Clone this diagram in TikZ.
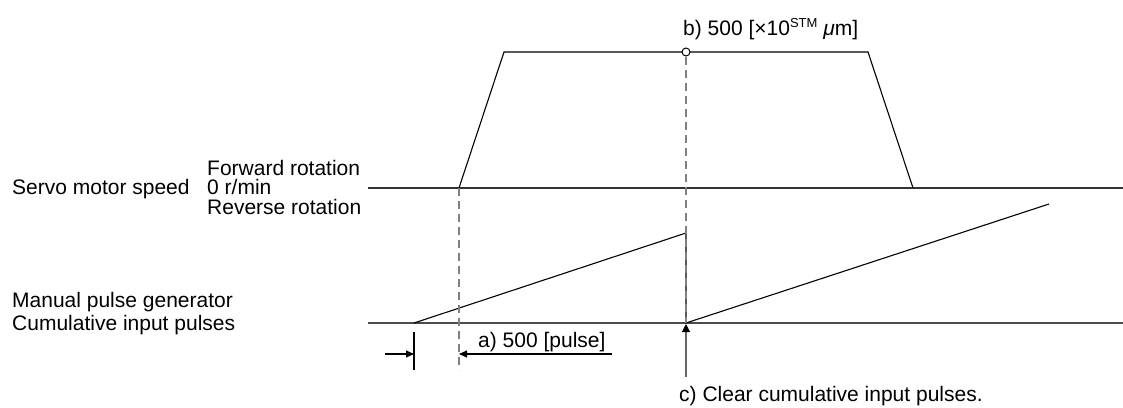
\documentclass[tikz,border=0pt]{standalone}
\usepackage{fontspec}
\setmainfont{Liberation Sans}
\usetikzlibrary{arrows.meta}
\begin{document}
\begin{tikzpicture}[x=1pt,y=-1pt,
  axis/.style={line width=1.3pt,black!80},
  curve/.style={line width=1.1pt},
  guide/.style={line width=1.2pt,black!50,dash pattern=on 8pt off 5pt},
  lbl/.style={anchor=base west,inner sep=0pt,font=\fontsize{21}{20}\selectfont},
  tip/.style={-{Triangle[length=8pt,width=7pt]}}]
  \useasboundingbox (0,0) rectangle (1123,407);
  % servo motor speed
  \coordinate (s0) at (368,188);
  \coordinate (s1) at (1123,188);
  \coordinate (acc0) at (459,188);
  \coordinate (acc1) at (504,52);
  \coordinate (dec0) at (868,52);
  \coordinate (dec1) at (913,188);
  \draw[axis] (s0)--(s1);
  \draw[curve] (acc0)--(acc1)--(dec0)--(dec1);
  % cumulative input pulses
  \coordinate (c0) at (368,323);
  \coordinate (c1) at (1123,323);
  \coordinate (p0) at (414,323);
  \coordinate (p1) at (686,233);
  \coordinate (p2) at (686,323);
  \coordinate (p3) at (1049,204);
  \draw[axis,black!70,line width=1.6pt] (c0)--(c1);
  \draw[curve] (p0)--(p1)--(p2)--(p3);
  % guides
  \coordinate (g0) at (459,370);
  \draw[guide] (acc0)--(g0);
  \node[circle,draw,fill=white,line width=1pt,minimum size=8pt,inner sep=0pt] (mark) at (686,52) {};
  \draw[guide] (mark.south)--(p2);
  % a) dimension
  \coordinate (t0) at (414,332);
  \coordinate (t1) at (414,370);
  \coordinate (d0) at (385,354);
  \coordinate (d1) at (414,354);
  \coordinate (d2) at (612,354);
  \coordinate (d3) at (459,354);
  \draw[line width=1.1pt] (t0)--(t1);
  \draw[line width=1.1pt,tip] (d0)--(d1);
  \draw[line width=1.1pt,tip] (d2)--(d3);
  % c) clear
  \coordinate (ca) at (686,377);
  \coordinate (cb) at (686,324);
  \draw[line width=1.2pt,black!60,tip,-{Triangle[length=8pt,width=8pt,fill=black,color=black]}] (ca)--(cb);
  % labels
  \node[lbl] (speed) at (12,194) {Servo motor speed};
  \node[lbl] (fwd) at (207,175) {Forward rotation};
  \node[lbl] (zero) at (207,194) {0 r/min};
  \node[lbl] (rev) at (207,214) {Reverse rotation};
  \node[lbl] (mpg) at (12,307) {Manual pulse generator};
  \node[lbl] (cum) at (12,330) {Cumulative input pulses};
  \node[lbl] (la) at (478,347) {a) 500 [pulse]};
  \node[lbl] (lb) at (683,35) {b) 500 [×10\raisebox{8pt}{\fontsize{13}{13}\selectfont STM}\ {\itshape μ}m]};
  \node[lbl] (lc) at (679,401) {c) Clear cumulative input pulses.};
\end{tikzpicture}
\end{document}
